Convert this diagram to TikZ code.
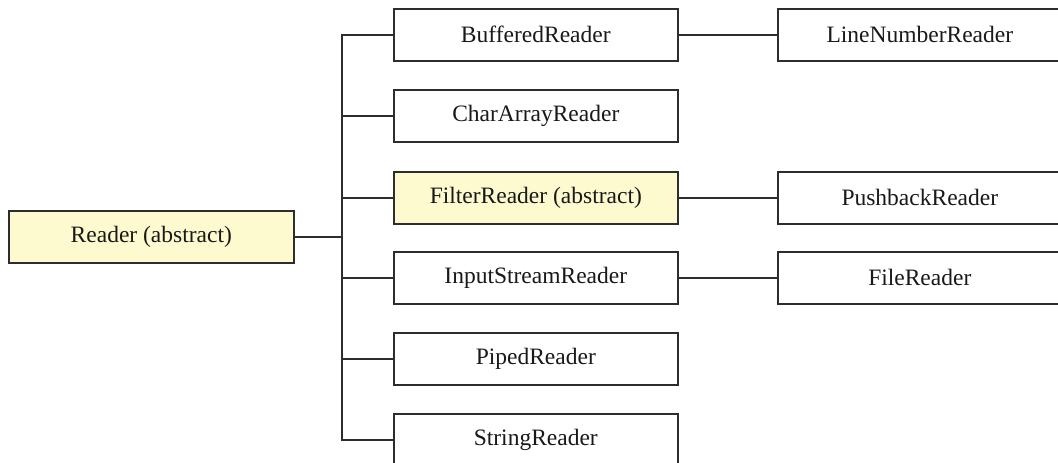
\documentclass[tikz,border=0pt]{standalone}
\usepackage{fontspec}
\setmainfont{Liberation Serif}
\definecolor{absfill}{RGB}{252,250,206}
\definecolor{edge}{RGB}{45,45,45}
\begin{document}
\begin{tikzpicture}[x=1pt,y=-1pt,
  box/.style={draw=edge,line width=1.6pt,fill=white,anchor=north west,
    minimum width=284pt,minimum height=52pt,inner sep=0pt,
    font=\fontsize{23.5}{27}\selectfont,text=black!90},
  absbox/.style={box,fill=absfill},
  rbox/.style={box,minimum width=284pt},
  conn/.style={draw=edge,line width=1.6pt}]
\useasboundingbox (0,0) rectangle (1058,463);
\clip (0,0) rectangle (1058,463);
% root
\node[absbox,minimum width=285pt] (reader) at (8,210) {Reader (abstract)};
% middle column
\node[box] (buffered) at (393,8) {BufferedReader};
\node[box] (chararray) at (393,89) {CharArrayReader};
\node[absbox] (filter) at (393,171) {FilterReader (abstract)};
\node[box] (input) at (393,251) {InputStreamReader};
\node[box] (piped) at (393,332) {PipedReader};
\node[box] (string) at (393,413) {StringReader};
% right column
\node[rbox] (linenum) at (777,8) {LineNumberReader};
\node[rbox] (pushback) at (777,171) {PushbackReader};
\node[rbox] (file) at (777,251) {FileReader};
% bus
\coordinate (busN) at (342,0 |- buffered.west);
\coordinate (busS) at (342,0 |- string.west);
\coordinate (busR) at (342,0 |- reader.east);
\draw[conn,line cap=rect] (busN) -- (busS);
\draw[conn] (reader.east) -- (busR);
\foreach \n in {buffered,chararray,filter,input,piped,string}
  \draw[conn] (busN |- \n.west) -- (\n.west);
% second level
\draw[conn] (buffered.east) -- (linenum.west);
\draw[conn] (filter.east) -- (pushback.west);
\draw[conn] (input.east) -- (file.west);
\end{tikzpicture}
\end{document}
